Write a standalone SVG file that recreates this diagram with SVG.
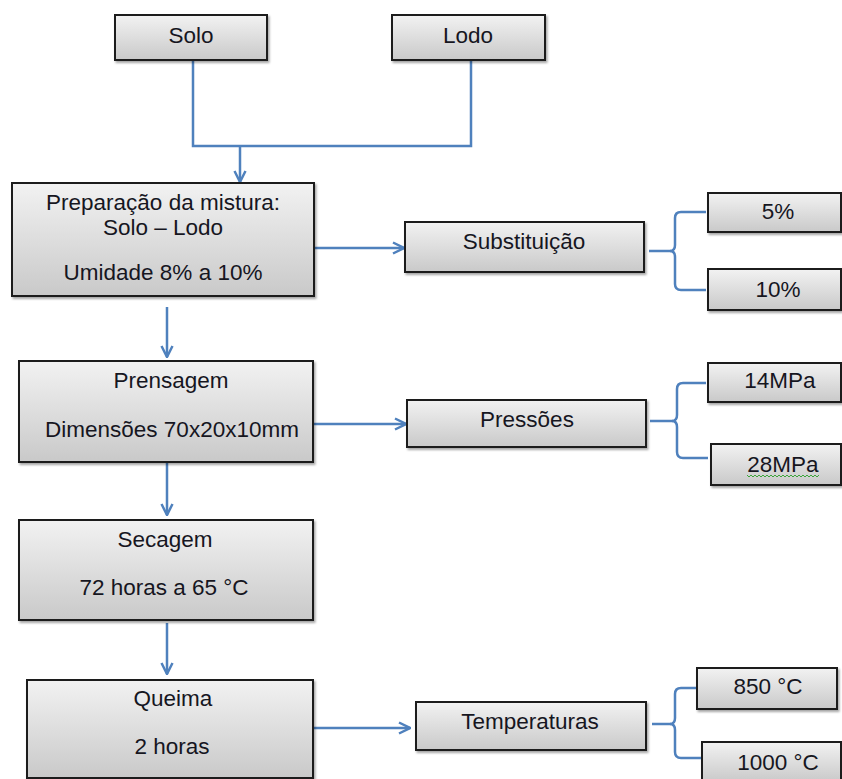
<svg xmlns="http://www.w3.org/2000/svg" width="842" height="779" viewBox="0 0 842 779">
  <defs>
    <linearGradient id="boxFill" x1="0" y1="0" x2="0" y2="1">
      <stop offset="0" stop-color="#f2f2f2"/>
      <stop offset="1" stop-color="#c9c9c9"/>
    </linearGradient>
    <filter id="shadow" x="-5%" y="-10%" width="115%" height="130%">
      <feDropShadow dx="1.5" dy="2" stdDeviation="1.2" flood-color="#000" flood-opacity="0.35"/>
    </filter>
    <marker id="arrow" viewBox="0 0 10 10" refX="9" refY="5" markerWidth="5.5" markerHeight="5.5" orient="auto" markerUnits="strokeWidth">
      <path d="M1,1 L9,5 L1,9" fill="none" stroke="#4f81bd" stroke-width="1.8"/>
    </marker>
  </defs>
  <style>
    .box { fill: url(#boxFill); stroke: #1c1c1c; stroke-width: 2; filter: url(#shadow); }
    .lbl { font-family: "Liberation Sans", Arial, sans-serif; font-size: 22.5px; fill: #16161f; text-anchor: middle; }
    .con { fill: none; stroke: #4f81bd; stroke-width: 2.5; }
    .arr { fill: none; stroke: #4f81bd; stroke-width: 2.5; marker-end: url(#arrow); }
  </style>
  <rect width="842" height="779" fill="#ffffff"/>

  <!-- connectors -->
  <g id="connectors">
    <path class="con" d="M193,60 V146 H471 V60"/>
    <path class="arr" d="M240,146 V182"/>
    <path class="arr" d="M167,307 V357"/>
    <path class="arr" d="M167,463 V515"/>
    <path class="arr" d="M167,623 V674"/>
    <path class="arr" d="M314,248 H404"/>
    <path class="arr" d="M313,424 H406"/>
    <path class="arr" d="M313,728 H410"/>
    <!-- braces -->
    <path class="con" d="M649,251 H670 Q675,251 675,245 V218 Q675,212 681,212 H706"/>
    <path class="con" d="M670,251 Q675,251 675,257 V284 Q675,290 681,290 H706"/>
    <path class="con" d="M650,421 H672 Q677,421 677,415 V389 Q677,383 683,383 H706"/>
    <path class="con" d="M672,421 Q677,421 677,427 V452 Q677,458 683,458 H708"/>
    <path class="con" d="M652,724 H670 Q675,724 675,718 V694 Q675,688 681,688 H696"/>
    <path class="con" d="M670,724 Q675,724 675,730 V752 Q675,758 681,758 H701"/>
  </g>

  <g id="solo">
    <rect class="box" x="115" y="15" width="152" height="45"/>
    <text class="lbl" x="191" y="43">Solo</text>
  </g>
  <g id="lodo">
    <rect class="box" x="392" y="15" width="153" height="45"/>
    <text class="lbl" x="468" y="43">Lodo</text>
  </g>
  <g id="preparacao">
    <rect class="box" x="12" y="183" width="302" height="113"/>
    <text class="lbl" x="163" y="210">Preparação da mistura:</text>
    <text class="lbl" x="163" y="235">Solo – Lodo</text>
    <text class="lbl" x="163" y="280">Umidade 8% a 10%</text>
  </g>
  <g id="substituicao">
    <rect class="box" x="405" y="222" width="239" height="50"/>
    <text class="lbl" x="524" y="249">Substituição</text>
  </g>
  <g id="pct5">
    <rect class="box" x="708" y="193" width="133" height="39"/>
    <text class="lbl" x="778" y="219">5%</text>
  </g>
  <g id="pct10">
    <rect class="box" x="708" y="269" width="133" height="41"/>
    <text class="lbl" x="778" y="297">10%</text>
  </g>
  <g id="prensagem">
    <rect class="box" x="19" y="361" width="294" height="101"/>
    <text class="lbl" x="171" y="388">Prensagem</text>
    <text class="lbl" x="172" y="437">Dimensões 70x20x10mm</text>
  </g>
  <g id="pressoes">
    <rect class="box" x="407" y="400" width="239" height="47"/>
    <text class="lbl" x="527" y="427">Pressões</text>
  </g>
  <g id="mpa14">
    <rect class="box" x="708" y="363" width="133" height="39"/>
    <text class="lbl" x="780" y="388">14MPa</text>
  </g>
  <g id="mpa28">
    <rect class="box" x="711" y="444" width="130" height="41"/>
    <text class="lbl" x="783" y="472">28MPa</text>
    <!-- spell-check squiggle under the label -->
    <path d="M747,475 l2,2 l2,-2 l2,2 l2,-2 l2,2 l2,-2 l2,2 l2,-2 l2,2 l2,-2 l2,2 l2,-2 l2,2 l2,-2 l2,2 l2,-2 l2,2 l2,-2 l2,2 l2,-2 l2,2 l2,-2 l2,2 l2,-2 l2,2 l2,-2 l2,2 l2,-2 l2,2 l2,-2 l2,2 l2,-2 l2,2 l2,-2 l2,2 l2,-2" fill="none" stroke="#3aa53a" stroke-width="1"/>
  </g>
  <g id="secagem">
    <rect class="box" x="19" y="520" width="294" height="100"/>
    <text class="lbl" x="165" y="547">Secagem</text>
    <text class="lbl" x="164" y="595">72 horas a 65 °C</text>
  </g>
  <g id="queima">
    <rect class="box" x="27" y="680" width="286" height="98"/>
    <text class="lbl" x="173" y="706">Queima</text>
    <text class="lbl" x="172" y="754">2 horas</text>
  </g>
  <g id="temperaturas">
    <rect class="box" x="416" y="702" width="230" height="48"/>
    <text class="lbl" x="530" y="729">Temperaturas</text>
  </g>
  <g id="t850">
    <rect class="box" x="697" y="668" width="140" height="41"/>
    <text class="lbl" x="768" y="694">850 °C</text>
  </g>
  <g id="t1000">
    <rect class="box" x="702" y="742" width="139" height="40"/>
    <text class="lbl" x="778" y="770">1000 °C</text>
  </g>
</svg>
